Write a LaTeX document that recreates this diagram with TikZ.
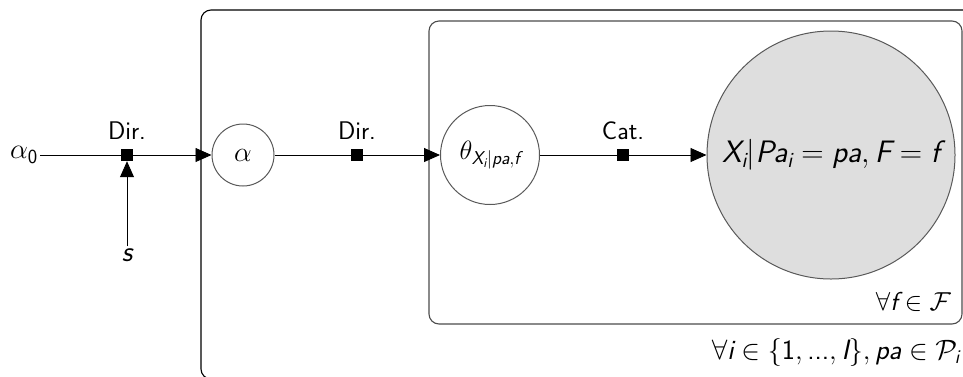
\RequirePackage{fix-cm}
\documentclass[tikz,border=0pt]{standalone}
\usepackage{amsmath}
\usetikzlibrary{arrows.meta}
\newcommand\sv[1]{\textsf{\itshape #1}}
\newcommand\su[1]{\textsf{#1}}
\begin{document}
\begin{tikzpicture}[x=1pt,y=-1pt,
  font=\fontsize{26}{31}\selectfont,
  factor/.style={fill=black, draw=none, minimum size=12pt, inner sep=0pt},
  var/.style={circle, draw=black!65, line width=1pt, inner sep=0pt},
  obs/.style={var, fill=black!13},
  conn/.style={line width=0.9pt},
  arr/.style={conn, -{Triangle[length=16pt,width=14pt]}},
  plate/.style={rounded corners=10pt, line width=1.1pt},
  lab/.style={font=\sffamily\fontsize{25.5}{30}\selectfont, anchor=south, yshift=6pt}]
\useasboundingbox (0,0) rectangle (963,376);
\clip (0,0) rectangle (963,376);
% plates
\draw[plate, draw=black] (201,10) rectangle (985,379);
\draw[plate, draw=black!70] (429,21) rectangle (962,324);
\node[anchor=east, inner sep=0pt] (lf) at (951,302) {$\forall \sv{f}\in\mathcal{F}$};
\node[anchor=east, inner sep=0pt, font=\fontsize{28}{33}\selectfont] (li) at (960,352) {$\forall \sv{i}\in\{\su{1},\su{...},\sv{I}\},\sv{pa}\in\mathcal{P}_{\sv{i}}$};
% nodes
\node[inner sep=0pt, font=\fontsize{28.5}{34}\selectfont] (a0) at (24,155) {$\alpha_{\su{0}}$};
\node[factor] (f1) at (127,155) {};
\node[lab] at (f1.north) {Dir.};
\node[inner sep=2pt, font=\fontsize{29}{34}\selectfont] (s) at (127,255) {$\sv{s}$};
\node[var, minimum size=62pt, font=\fontsize{28}{33}\selectfont] (alpha) at (243,155) {$\alpha$};
\node[factor] (f2) at (357,155) {};
\node[lab] at (f2.north) {Dir.};
\node[var, minimum size=99pt, font=\fontsize{26.5}{31}\selectfont] (theta) at (490,155) {$\theta_{\sv{X}_{\sv{i}}|\sv{pa},\sv{f}}$};
\node[factor] (f3) at (623,155) {};
\node[lab] at (f3.north) {Cat.};
\node[obs, minimum size=248pt, font=\fontsize{31}{37}\selectfont] (x) at (831,155) {$\sv{X}_{\sv{i}}|\sv{Pa}_{\sv{i}}=\sv{pa},\sv{F}=\sv{f}$};
% connectors
\draw[conn] (a0.east) ++(2pt,0) coordinate (a0e) -- (f1);
\draw[arr] (s.north) -- (f1.south);
\draw[arr] (f1) -- (alpha.west);
\draw[conn] (alpha) -- (f2);
\draw[arr] (f2) -- (theta.west);
\draw[conn] (theta) -- (f3);
\draw[arr] (f3) -- (x.west);
\end{tikzpicture}
\end{document}
